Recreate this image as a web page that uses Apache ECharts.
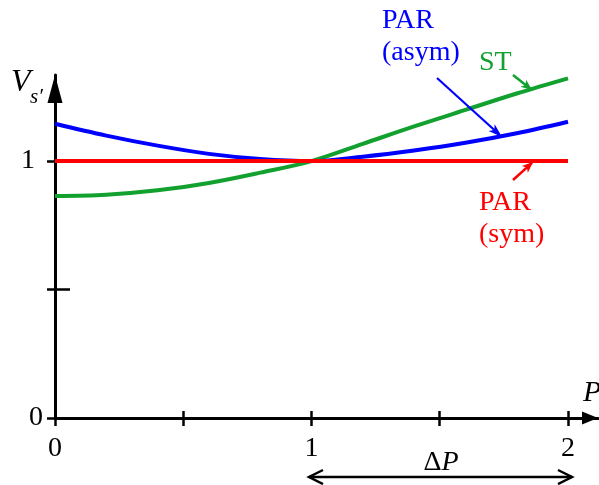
<!DOCTYPE html>
<html><head><meta charset="utf-8">
<script src="https://cdn.jsdelivr.net/npm/echarts@6/dist/echarts.min.js"></script>
<style>html,body{margin:0;padding:0;background:#fff}#c{width:599px;height:485px}</style>
</head><body><div id="c"></div>
<script>
// ---- data ----
const P = [0, 0.2, 0.4, 0.6, 0.8, 1.0, 1.2, 1.4, 1.6, 1.8, 2.0];
const parAsym = [1.145, 1.099, 1.060, 1.028, 1.008, 1.0, 1.017, 1.041, 1.071, 1.108, 1.153];
const st = [0.864, 0.869, 0.886, 0.915, 0.955, 1.0, 1.067, 1.135, 1.199, 1.263, 1.322];
const parSym = [1, 1, 1, 1, 1, 1, 1, 1, 1, 1, 1];
const xTickValues = [0, 0.5, 1, 1.5, 2];
const xInnerTicks = [0.5, 1, 1.5, 2];
const xLabelValues = [0, 1, 2];
const yTickValues = [0, 0.5, 1];
const yLabelValues = [0, 1];

const FONT = '"Liberation Serif", "Times New Roman", serif';
const BLUE = '#0000ff', GREEN = '#12a02f', RED = '#ff0000';
const X_MIN = 0, X_MAX = 2.117, Y_MIN = 0, Y_MAX = 1.335;

const chart = echarts.init(document.getElementById('c'), null, {renderer: 'canvas'});

function pairs(vals) { return P.map((p, i) => [p, vals[i]]); }

function arrowHead(x1, y1, x2, y2, len, half, color) {
  const dx = x2 - x1, dy = y2 - y1, d = Math.hypot(dx, dy);
  const ux = dx / d, uy = dy / d, nx = -uy, ny = ux;
  const bx = x2 - ux * len, by = y2 - uy * len;
  const mx = x2 - ux * len * 0.75, my = y2 - uy * len * 0.75;
  return {type: 'polygon', z: 100, shape: {points: [[x2, y2], [bx + nx * half, by + ny * half], [mx, my], [bx - nx * half, by - ny * half]]},
    style: {fill: color}};
}
function arrow(x1, y1, x2, y2, color, w, len, half) {
  return [
    {type: 'line', z: 100, shape: {x1, y1, x2: x2 - (x2 - x1) * 0.05, y2: y2 - (y2 - y1) * 0.05}, style: {stroke: color, lineWidth: w}},
    arrowHead(x1, y1, x2, y2, len, half, color)
  ];
}
function txt(text, x, y, color, size, style, align) {
  return {type: 'text', z: 100, x, y, style: {text, fill: color, font: (style || 'normal') + ' ' + size + 'px ' + FONT,
    align: align || 'left', verticalAlign: 'middle'}};
}

const graphics = [].concat(
  txt('V', 11, 83, '#000', 32, 'italic'),
  txt('s\u2032', 30, 97, '#000', 21, 'italic'),
  txt('P', 583, 393, '#000', 30, 'italic'),
  [{type: 'text', z: 100, x: 441, y: 463, style: {text: '{a|\u0394}{b|P}', align: 'center', verticalAlign: 'middle',
     rich: {a: {fontFamily: FONT, fontSize: 28, fill: '#000', color: '#000'}, b: {fontFamily: FONT, fontSize: 28, fontStyle: 'italic', fill: '#000', color: '#000'}}}}],
  [{type: 'line', z: 100, shape: {x1: 309, y1: 477, x2: 572, y2: 477}, style: {stroke: '#000', lineWidth: 2.5}},
   {type: 'polyline', z: 100, shape: {points: [[323, 470], [309, 477], [323, 484]]}, style: {stroke: '#000', lineWidth: 2.5, fill: null}},
   {type: 'polyline', z: 100, shape: {points: [[558, 470], [572, 477], [558, 484]]}, style: {stroke: '#000', lineWidth: 2.5, fill: null}}],
  txt('PAR', 382, 21, BLUE, 28),
  txt('(asym)', 382, 53, BLUE, 28),
  txt('ST', 479, 63, GREEN, 28),
  txt('PAR', 479, 203, RED, 28),
  txt('(sym)', 479, 235, RED, 28),
  arrow(437, 78, 502, 137, BLUE, 2.2, 14, 4.5),
  arrow(513, 75, 532, 90, GREEN, 2.5, 11, 4.5),
  arrow(513, 180, 533, 162, RED, 2.5, 11, 4.5)
);

const gridOpt = {left: 55, right: 1, top: 75, bottom: 67};

chart.setOption({
  animation: false,
  backgroundColor: '#fff',
  grid: gridOpt,
  xAxis: [{
    type: 'value', min: X_MIN, max: X_MAX, position: 'bottom',
    axisLine: {show: true, lineStyle: {color: '#000', width: 3}, symbol: ['none', 'triangle'], symbolSize: [13, 16], symbolOffset: [0, -8]},
    axisTick: {show: true, inside: false, length: 8, customValues: xTickValues, lineStyle: {color: '#000', width: 2.5}},
    axisLabel: {show: true, customValues: xLabelValues, margin: 17, color: '#000', fontFamily: FONT, fontSize: 28},
    splitLine: {show: false}
  }, {
    type: 'value', min: X_MIN, max: X_MAX, position: 'bottom',
    axisLine: {show: false, onZero: false},
    axisTick: {show: true, inside: true, length: 7, customValues: xInnerTicks, lineStyle: {color: '#000', width: 2.5}},
    axisLabel: {show: false}, splitLine: {show: false}
  }],
  yAxis: [{
    type: 'value', min: Y_MIN, max: Y_MAX, position: 'left',
    axisLine: {show: true, lineStyle: {color: '#000', width: 3}, symbol: ['none', 'triangle'], symbolSize: [15, 28], symbolOffset: [0, -14]},
    axisTick: {show: true, inside: false, length: 8, customValues: yTickValues, lineStyle: {color: '#000', width: 2.5}},
    axisLabel: {show: true, customValues: yLabelValues, margin: 12, color: '#000', fontFamily: FONT, fontSize: 28,
      formatter: v => v === 1 ? '{one|1}' : '{zero|0}',
      rich: {one: {fontFamily: FONT, fontSize: 28, color: '#000', padding: [0, 8, 0, 0]}, zero: {fontFamily: FONT, fontSize: 28, color: '#000'}}},
    splitLine: {show: false}
  }, {
    type: 'value', min: Y_MIN, max: Y_MAX, position: 'left',
    axisLine: {show: false, onZero: false},
    axisTick: {show: true, inside: true, length: 7, customValues: [1], lineStyle: {color: '#000', width: 2.5}},
    axisLabel: {show: false}, splitLine: {show: false}
  }, {
    type: 'value', min: Y_MIN, max: Y_MAX, position: 'left',
    axisLine: {show: false, onZero: false},
    axisTick: {show: true, inside: true, length: 15, customValues: [0.5], lineStyle: {color: '#000', width: 2.5}},
    axisLabel: {show: false}, splitLine: {show: false}
  }],
  series: [
    {name: 'ST', type: 'line', data: pairs(st), smooth: 0.35, showSymbol: false, clip: false,
      lineStyle: {color: GREEN, width: 4}, z: 2},
    {name: 'PAR (asym)', type: 'line', data: pairs(parAsym), smooth: 0.35, showSymbol: false, clip: false,
      lineStyle: {color: BLUE, width: 4}, z: 3},
    {name: 'PAR (sym)', type: 'line', data: pairs(parSym), showSymbol: false, clip: false,
      lineStyle: {color: RED, width: 4}, z: 4}
  ],
  graphic: graphics
});
</script>
</body></html>
